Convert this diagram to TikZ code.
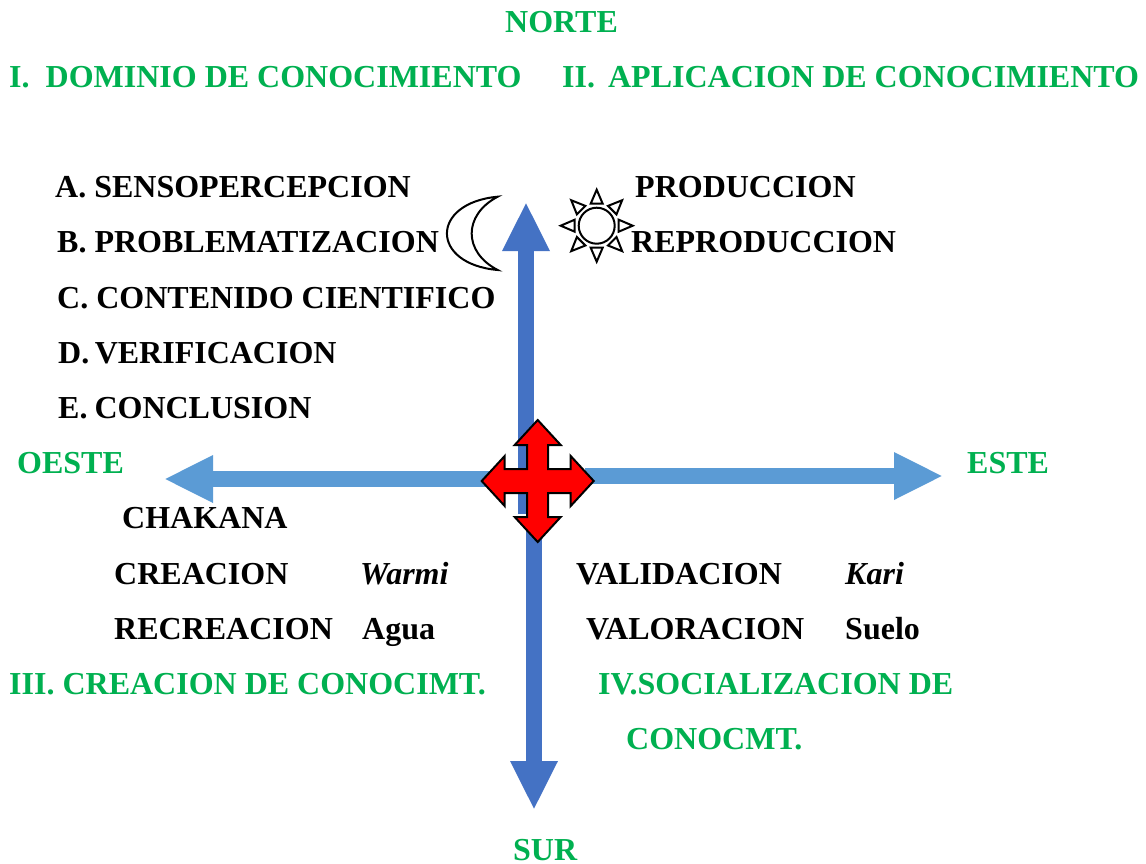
\documentclass[tikz,border=0pt]{standalone}
\usepackage{fontspec}
\setmainfont{Liberation Serif}
\usetikzlibrary{arrows.meta}
\definecolor{verde}{HTML}{00B050}
\definecolor{azul}{HTML}{4472C4}
\definecolor{celeste}{HTML}{5B9BD5}
\tikzset{
    texto/.style={anchor=base west,inner sep=0pt,text depth=0pt,font=\fontsize{32}{36}\selectfont\bfseries},
    titulo/.style={texto,text=verde},
    eje/.style={line width=16pt,-{Triangle[length=49pt,width=44pt]}},
    trazo/.style={line width=2pt,line join=miter}
}
\begin{document}
\begin{tikzpicture}[x=1pt,y=-1pt]
    \useasboundingbox (0,0) rectangle (1146,863);

    \node (norte) [titulo] at (505,32) {NORTE};
    \node (dominio) [titulo] at (9,87) {I.\ \ DOMINIO DE CONOCIMIENTO};
    \node (aplicacion) [titulo] at (562,87) {II.\ \hspace{5pt}APLICACION DE CONOCIMIENTO};
    \node (oeste) [titulo] at (17,473) {OESTE};
    \node (este) [titulo] at (967,473) {ESTE};
    \node (creacionc) [titulo] at (9,694) {III. CREACION DE CONOCIMT.};
    \node (socializa) [titulo] at (598,694) {IV.SOCIALIZACION DE};
    \node (conocmt) [titulo] at (626,749) {CONOCMT.};
    \node (sur) [titulo] at (513,860) {SUR};

    \node (sensop) [texto] at (55,197) {A. SENSOPERCEPCION};
    \node (problema) [texto] at (57,252) {B. PROBLEMATIZACION};
    \node (contenido) [texto] at (57,308) {C. CONTENIDO CIENTIFICO};
    \node (verifica) [texto] at (58,363) {D.\hspace{-2.5pt} VERIFICACION};
    \node (conclu) [texto] at (58,418) {E.\hspace{-1pt} CONCLUSION};
    \node (produc) [texto] at (635,197) {PRODUCCION};
    \node (reprod) [texto] at (631,252) {REPRODUCCION};
    \node (chakana) [texto] at (122,528) {CHAKANA};
    \node (creacion) [texto] at (114,584) {CREACION};
    \node (warmi) [texto] at (360,584) {\itshape Warmi};
    \node (recrea) [texto] at (114,639) {RECREACION};
    \node (agua) [texto] at (362,639) {Agua};
    \node (valida) [texto] at (576,584) {VALIDACION};
    \node (kari) [texto] at (845,584) {\itshape Kari};
    \node (valora) [texto] at (586,639) {VALORACION};
    \node (suelo) [texto] at (845,639) {Suelo};

    % ejes
    \coordinate (arriba0) at (526,514);
    \coordinate (arriba) at (526,202);
    \coordinate (abajo0) at (534,514);
    \coordinate (abajo) at (534,810);
    \coordinate (izq0) at (490,479);
    \coordinate (izq) at (164,479);
    \coordinate (der0) at (585,476);
    \coordinate (der) at (943,476);
    \draw[eje,azul] (arriba0) -- (arriba);
    \draw[eje,azul] (abajo0) -- (abajo);
    \draw[eje,celeste] (izq0) -- (izq);
    \draw[eje,celeste] (der0) -- (der);

    % cruz
    \draw[trazo,fill=red,shift={(537.7,481)}]
        (0,-61) -- (23,-36) -- (10.5,-36) -- (10.5,-12) -- (33,-12) -- (33,-25)
        -- (56,0) -- (33,25) -- (33,12) -- (10.5,12) -- (10.5,36) -- (23,36)
        -- (0,61) -- (-23,36) -- (-10.5,36) -- (-10.5,12) -- (-33,12) -- (-33,25)
        -- (-56,0) -- (-33,-25) -- (-33,-12) -- (-10.5,-12) -- (-10.5,-36) -- (-23,-36)
        -- cycle;

    % luna
    \draw[trazo,fill=white] (497.7,196.7) .. controls (430,203) and (430,264) .. (497.7,270)
        .. controls (463,252) and (463,215) .. (497.7,196.7) -- cycle;

    % sol
    \draw[trazo] (596.7,225.7) circle (18);
    \foreach \a in {0,45,...,315}
        \draw[trazo,shift={(596.7,225.7)},rotate=\a]
            (36,0) -- (22,-6) -- (22,6) -- cycle;
\end{tikzpicture}
\end{document}
